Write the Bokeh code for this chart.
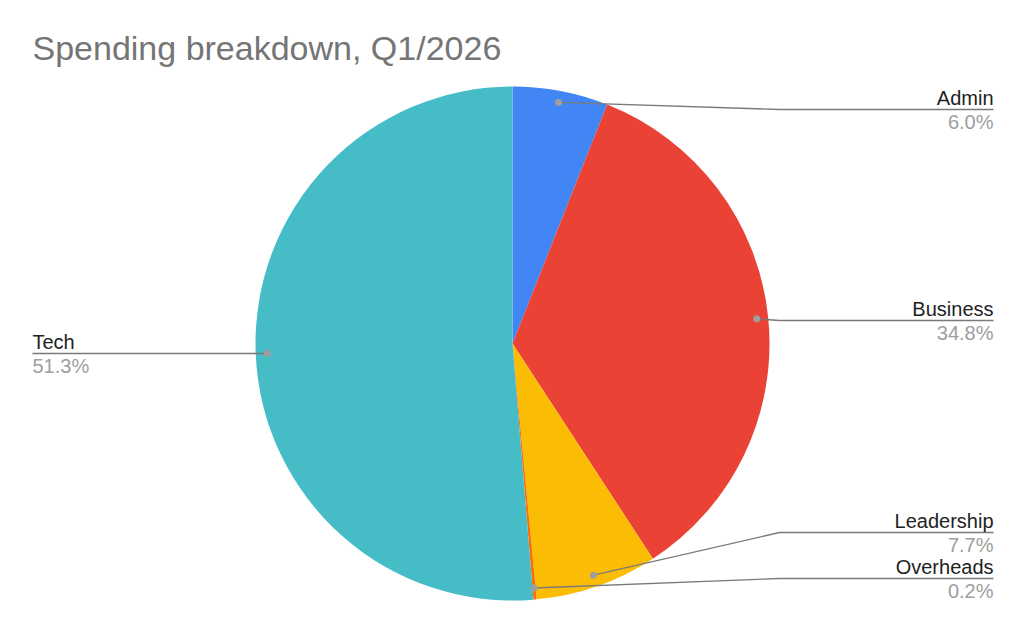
import math
from bokeh.plotting import figure
from bokeh.models import Range1d, ColumnDataSource, Label
from bokeh.core.properties import value
from bokeh.embed import file_html
from bokeh.resources import INLINE

# ---- data ----
categories = ["Admin", "Business", "Leadership", "Overheads", "Tech"]
shares = [6.0, 34.8, 7.7, 0.2, 51.3]
colors = ["#4285F4", "#EA4335", "#FBBC04", "#FF6D01", "#46BDC6"]
title_text = "Spending breakdown, Q1/2026"

# ---- layout (page pixels) ----
W, H = 1008, 617
OFF = 0  # page offset of the figure as photographed
cx_page, cy_page = 512, 343
R = 257
label_line_y = [109, 320, 532, 578, 353]
label_side = ["right", "right", "right", "right", "left"]
right_elbow_x, right_end_x = 779, 993
left_elbow_x, left_end_x = 245, 32
FONT = "Liberation Sans"
TOP = OFF + H  # data y at page y = 0


def dy(page_y):
    return TOP - page_y


p = figure(width=W, height=H, x_range=Range1d(OFF, OFF + W), y_range=Range1d(0, H),
           toolbar_location=None, output_backend="svg", min_border=0)
p.y_range = Range1d(dy(OFF + H), dy(OFF))
p.axis.visible = False
p.grid.visible = False
p.outline_line_color = None
p.background_fill_color = "white"
p.border_fill_color = "white"

total = sum(shares)
cx, cy = cx_page, dy(cy_page)
starts, ends, mids = [], [], []
cum = 0.0
for v in shares:
    f0 = cum / total
    f1 = (cum + v) / total
    starts.append(math.pi / 2 - 2 * math.pi * f0)
    ends.append(math.pi / 2 - 2 * math.pi * f1)
    mids.append(math.pi / 2 - 2 * math.pi * (f0 + f1) / 2)
    cum += v

src = ColumnDataSource(dict(x=[cx] * len(shares), y=[cy] * len(shares), start=starts, end=ends,
                            color=colors, cat=categories))
p.wedge(x="x", y="y", radius=R, start_angle="start", end_angle="end", direction="clock",
        fill_color="color", line_color=None, source=src)

# leader lines and dots
dot_x = [cx + 0.955 * R * math.cos(a) for a in mids]
dot_y = [cy + 0.955 * R * math.sin(a) for a in mids]
xs, ys = [], []
for i in range(len(shares)):
    ly = dy(label_line_y[i])
    if label_side[i] == "right":
        xs.append([dot_x[i], right_elbow_x, right_end_x])
    else:
        xs.append([dot_x[i], left_elbow_x, left_end_x])
    ys.append([dot_y[i], ly, ly])
p.multi_line(xs=xs, ys=ys, line_color="#7a7a7a", line_width=1.3)
p.scatter(x=dot_x, y=dot_y, size=7, fill_color="#9e9e9e", line_color=None)

# labels
for side, align, xpos in [("right", "right", right_end_x), ("left", "left", left_end_x)]:
    idx = [i for i in range(len(shares)) if label_side[i] == side]
    names = [categories[i] for i in idx]
    pcts = [f"{shares[i]:.1f}%" for i in idx]
    ny = [dy(label_line_y[i] - 12) for i in idx]
    py = [dy(label_line_y[i] + 12) for i in idx]
    p.text(x=[xpos] * len(idx), y=ny, text=names, text_align=align, text_baseline="alphabetic",
           text_font=value(FONT), text_font_size="20px", text_color="#222222")
    p.text(x=[xpos] * len(idx), y=py, text=pcts, text_align=align, text_baseline="alphabetic",
           text_font=value(FONT), text_font_size="20px", text_color="#9e9e9e")

p.add_layout(Label(x=32, y=dy(47), text=title_text, text_align="left", text_baseline="alphabetic",
                   text_font=FONT, text_font_size="34px", text_color="#757575"))

open("out.html", "w").write(file_html(p, INLINE))
